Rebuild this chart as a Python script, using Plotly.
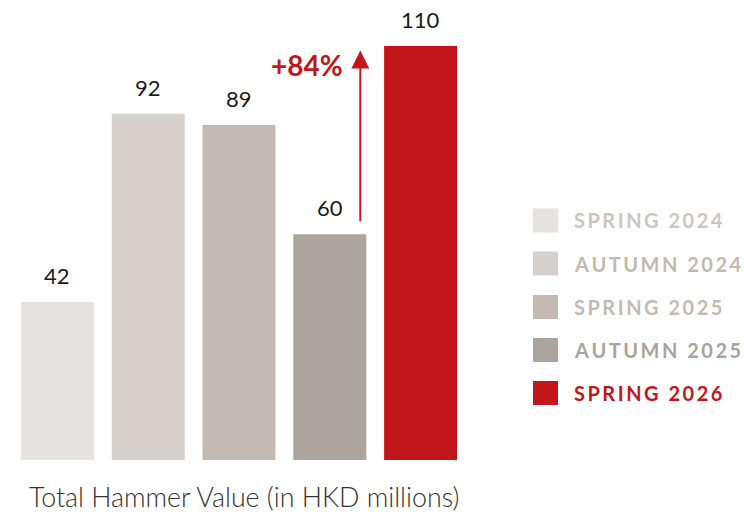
import plotly.graph_objects as go

# ---- data ----
seasons = ["SPRING 2024", "AUTUMN 2024", "SPRING 2025", "AUTUMN 2025", "SPRING 2026"]
values = [42, 92, 89, 60, 110]
bar_colors = ["#e6e2df", "#d6d1cd", "#c4bab1", "#aba59e", "#c2171a"]
text_colors = ["#cdc6bf", "#c2b9af", "#c4bbb2", "#aaa49c", "#c2171a"]
growth_label = "+84%"
axis_title = "Total Hammer Value (in HKD millions)"

W, H = 744, 515
FONT = "Lato"

fig = go.Figure()
fig.add_trace(go.Bar(
    x=list(range(len(seasons))), y=values,
    marker=dict(color=bar_colors, line=dict(width=0)),
    hoverinfo="skip", showlegend=False,
))

annotations = []
shapes = []
# value labels
for i, v in enumerate(values):
    annotations.append(dict(
        x=i, y=v, xref="x", yref="y", text=str(v), showarrow=False,
        yanchor="bottom", yshift=11,
        font=dict(family=FONT, size=22, color="#1a1a1a"),
    ))

# growth arrow between last two bars
annotations.append(dict(
    x=3.336, y=values[4] - 1.2, ax=3.336, ay=values[3] + 3,
    xref="x", yref="y", axref="x", ayref="y", text="",
    showarrow=True, arrowhead=2, arrowsize=1.8, arrowwidth=2,
    arrowcolor="#c2171a",
))
annotations.append(dict(
    x=2.75, y=104.9, xref="x", yref="y", text="<b>" + growth_label + "</b>",
    showarrow=False, xanchor="center", yanchor="middle",
    font=dict(family=FONT, size=28, color="#c2171a"),
))

# axis title
annotations.append(dict(
    x=244 / W, y=(H - 497) / H, xref="paper", yref="paper", text=axis_title,
    showarrow=False, xanchor="center", yanchor="middle",
    font=dict(family=FONT, size=26.8, color="#333333", weight=300),
))

# legend
def spaced(s):
    return "\u2009".join(s)

row_y = [220.5, 263.5, 307, 350, 393]
for i, name in enumerate(seasons):
    cy = row_y[i]
    shapes.append(dict(
        type="rect", xref="paper", yref="paper",
        x0=533 / W, x1=558 / W, y0=(H - cy - 12) / H, y1=(H - cy + 12) / H,
        fillcolor=bar_colors[i], line=dict(width=0),
    ))
    annotations.append(dict(
        x=572 / W, y=(H - cy) / H, xref="paper", yref="paper",
        text="<b>" + spaced(name) + "</b>", showarrow=False,
        xanchor="left", yanchor="middle",
        font=dict(family=FONT, size=20, color=text_colors[i]),
    ))

fig.update_layout(
    width=W, height=H,
    margin=dict(l=0, r=0, t=0, b=0),
    paper_bgcolor="white", plot_bgcolor="white",
    bargap=0.196,
    xaxis=dict(domain=[12 / W, 466 / W], range=[-0.5, 4.5], visible=False, fixedrange=True),
    yaxis=dict(domain=[55 / H, 1], range=[0, 460 / 3.764], visible=False, fixedrange=True),
    annotations=annotations, shapes=shapes,
    font=dict(family=FONT),
)

fig.write_html("out.html", config={"displayModeBar": False},
               post_script="document.body.style.margin='0';document.body.style.padding='0';")
